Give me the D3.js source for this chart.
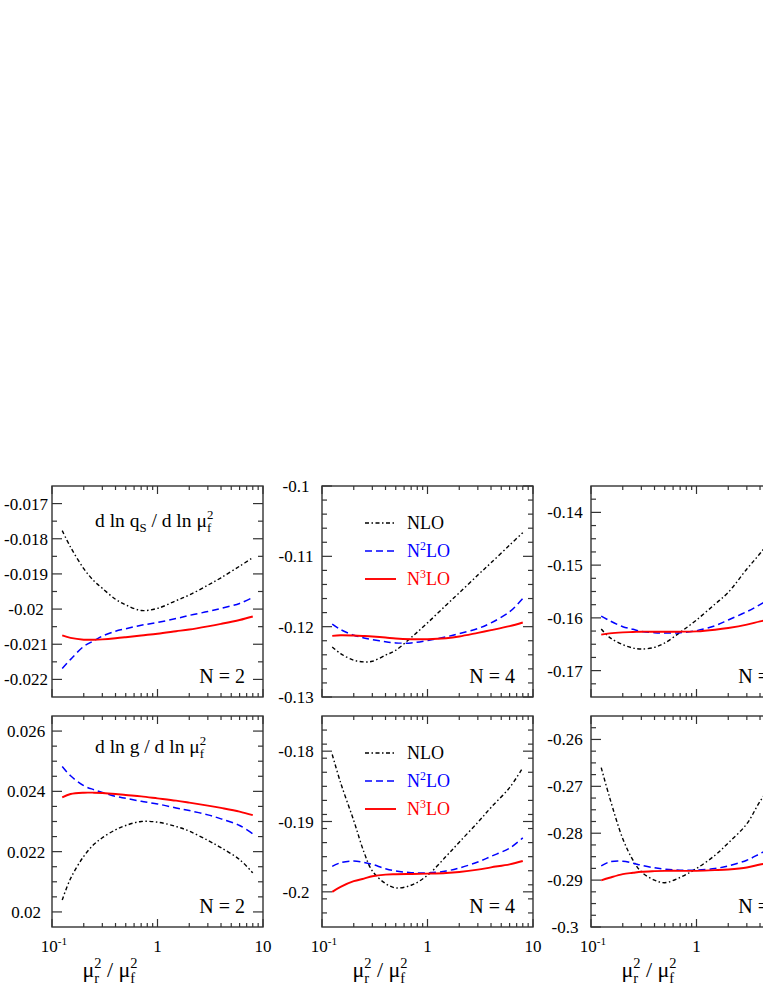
<!DOCTYPE html>
<html>
<head>
<meta charset="utf-8">
<script src="https://cdn.jsdelivr.net/npm/d3@7"></script>
<style>
  body { margin: 0; background: #fff; }
  svg { display: block; }
  text { font-family: "Liberation Serif", "Times New Roman", serif; fill: #000; }
</style>
</head>
<body>
<svg id="chart"></svg>
<script>
// scale ratio mu_r^2 / mu_f^2 where the curves are sampled
const xs = [0.125, 0.15, 0.2, 0.25, 0.3, 0.4, 0.5, 0.7, 1, 1.5, 2, 3, 4, 6, 8];

// d ln qS / d ln muf^2
const qsN2Nlo  = [-0.01777, -0.01824, -0.01885, -0.0192, -0.01941, -0.01972, -0.01988, -0.02004, -0.01998, -0.01976, -0.0196, -0.01932, -0.01911, -0.01878, -0.01854];
const qsN2N2lo = [-0.02169, -0.02143, -0.02106, -0.0209, -0.02077, -0.02063, -0.02056, -0.02046, -0.02038, -0.02027, -0.02018, -0.02007, -0.01998, -0.01984, -0.01967];
const qsN2N3lo = [-0.02075, -0.02082, -0.02087, -0.02087, -0.02086, -0.02083, -0.0208, -0.02075, -0.0207, -0.02063, -0.02058, -0.02049, -0.02042, -0.02031, -0.02021];

const qsN4Nlo  = [-0.12288, -0.12383, -0.12477, -0.12501, -0.12492, -0.12406, -0.12335, -0.12155, -0.11946, -0.11694, -0.11519, -0.11267, -0.11092, -0.1084, -0.10664];
const qsN4N2lo = [-0.11965, -0.12041, -0.12122, -0.1216, -0.12183, -0.12216, -0.12231, -0.12231, -0.12197, -0.12145, -0.12098, -0.12027, -0.11946, -0.11789, -0.116];
const qsN4N3lo = [-0.12131, -0.12122, -0.12126, -0.12133, -0.1214, -0.12155, -0.12169, -0.12178, -0.12178, -0.12164, -0.1214, -0.12088, -0.1205, -0.11993, -0.11941];

const qsN6Nlo  = [-0.16211, -0.16369, -0.16508, -0.16571, -0.1659, -0.16558, -0.16476, -0.16274, -0.1604, -0.15737, -0.15516, -0.15074, -0.1478, -0.14316, -0.13975];
const qsN6N2lo = [-0.15965, -0.16053, -0.16167, -0.16217, -0.16255, -0.1628, -0.16287, -0.1628, -0.16243, -0.16148, -0.1604, -0.15882, -0.15749, -0.15548, -0.1539];
const qsN6N3lo = [-0.16318, -0.16293, -0.16274, -0.16268, -0.16262, -0.16262, -0.16262, -0.16262, -0.16255, -0.16224, -0.16192, -0.16129, -0.16066, -0.1599, -0.15914];

// d ln g / d ln muf^2
const gN2Nlo  = [0.020396, 0.02111, 0.021846, 0.022242, 0.022462, 0.022725, 0.022868, 0.023, 0.022978, 0.022835, 0.022681, 0.022374, 0.022132, 0.021736, 0.021297];
const gN2N2lo = [0.024824, 0.024516, 0.024187, 0.024055, 0.023967, 0.023835, 0.023769, 0.02367, 0.023582, 0.02345, 0.023363, 0.02322, 0.023088, 0.022868, 0.022593];
const gN2N3lo = [0.023802, 0.023912, 0.023956, 0.023956, 0.023945, 0.023912, 0.023879, 0.023835, 0.023769, 0.023692, 0.023626, 0.023527, 0.023451, 0.02333, 0.023209];

const gN4Nlo  = [-0.18047, -0.18447, -0.18988, -0.19435, -0.19704, -0.19882, -0.19944, -0.19906, -0.19765, -0.19496, -0.19294, -0.19012, -0.188, -0.18518, -0.18235];
const gN4N2lo = [-0.19638, -0.19586, -0.19562, -0.19581, -0.19609, -0.19671, -0.19704, -0.19727, -0.19732, -0.19704, -0.19661, -0.19576, -0.19496, -0.19379, -0.19233];
const gN4N3lo = [-0.2, -0.19929, -0.19849, -0.19812, -0.19779, -0.19755, -0.1975, -0.19746, -0.19741, -0.19732, -0.19718, -0.19685, -0.19652, -0.19609, -0.19562];

const gN6Nlo  = [-0.266, -0.27235, -0.28117, -0.28576, -0.28823, -0.29, -0.29056, -0.28943, -0.28752, -0.2847, -0.28209, -0.278, -0.2732, -0.26776, -0.26318];
const gN6N2lo = [-0.28696, -0.28611, -0.28597, -0.28639, -0.28682, -0.28738, -0.28766, -0.28788, -0.28788, -0.28752, -0.28696, -0.28576, -0.28435, -0.28223, -0.28011];
const gN6N3lo = [-0.29006, -0.2895, -0.28872, -0.28844, -0.28823, -0.28809, -0.28802, -0.28802, -0.28802, -0.28788, -0.28773, -0.28731, -0.28668, -0.2859, -0.28505];

// y tick values
const qsN2Ticks = [-0.022, -0.021, -0.02, -0.019, -0.018, -0.017];
const qsN4Ticks = [-0.13, -0.12, -0.11, -0.1];
const qsN6Ticks = [-0.17, -0.16, -0.15, -0.14];
const gN2Ticks = [0.02, 0.022, 0.024, 0.026];
const gN4Ticks = [-0.2, -0.19, -0.18];
const gN6Ticks = [-0.3, -0.29, -0.28, -0.27, -0.26];

const xTicks = [0.1, 1, 10];
const xTickLabels = [[{t: '10'}, {t: '-1', sup: true}], [{t: '1'}], [{t: '10'}]];

const legendLabels = [
  [{t: 'NLO'}],
  [{t: 'N'}, {t: '2', sup: true}, {t: 'LO'}],
  [{t: 'N'}, {t: '3', sup: true}, {t: 'LO'}]
];
const qsTitle = [{t: 'd ln q'}, {t: 'S', sub: true}, {t: ' / d ln \u03bc'}, {t: 'f', sub: true}, {t: '2', sup: true, stack: true}];
const gTitle = [{t: 'd ln g / d ln \u03bc'}, {t: 'f', sub: true}, {t: '2', sup: true, stack: true}];
const xTitle = [{t: '\u03bc'}, {t: 'r', sub: true}, {t: '2', sup: true, stack: true}, {t: ' / \u03bc'}, {t: 'f', sub: true}, {t: '2', sup: true, stack: true}];

const colors = ['#000', '#0000ff', '#ff0000'];
const dashes = ['4,2.5,1.5,2.5', '7,4', null];
const widths = [1.4, 1.5, 1.9];

const W = 211, H = 211;
const svg = d3.select('#chart').attr('width', 763).attr('height', 987);

const panels = [
  {left: 52, top: 486, yDomain: [-0.0225, -0.0165], ticks: qsN2Ticks, minor: 0.0005, series: [qsN2Nlo, qsN2N2lo, qsN2N3lo], n: 'N = 2', title: qsTitle},
  {left: 322, top: 486, yDomain: [-0.13, -0.1], ticks: qsN4Ticks, minor: 0.002, series: [qsN4Nlo, qsN4N2lo, qsN4N3lo], n: 'N = 4', legend: true},
  {left: 591, top: 486, yDomain: [-0.175, -0.135], ticks: qsN6Ticks, minor: 0.0025, series: [qsN6Nlo, qsN6N2lo, qsN6N3lo], n: 'N = 6'},
  {left: 52, top: 716, yDomain: [0.0195, 0.0265], ticks: gN2Ticks, minor: 0.0005, series: [gN2Nlo, gN2N2lo, gN2N3lo], n: 'N = 2', title: gTitle, bottom: true},
  {left: 322, top: 716, yDomain: [-0.205, -0.175], ticks: gN4Ticks, minor: 0.002, series: [gN4Nlo, gN4N2lo, gN4N3lo], n: 'N = 4', legend: true, bottom: true},
  {left: 591, top: 716, yDomain: [-0.3, -0.255], ticks: gN6Ticks, minor: 0.0025, series: [gN6Nlo, gN6N2lo, gN6N3lo], n: 'N = 6', bottom: true}
];

// text with sub/superscripts, runs placed one after another
function richText(g, x, y, runs, size, anchor, fill) {
  const t = g.append('text').style('font-size', size + 'px').style('white-space', 'pre');
  if (fill) t.style('fill', fill);
  let cx = 0, prevX = 0;
  runs.forEach(r => {
    const small = r.sub || r.sup;
    const fs = small ? size * 0.66 : size;
    const dy = r.sub ? size * 0.28 : r.sup ? -size * 0.4 : 0;
    const sx = r.stack ? prevX : cx;
    const sp = t.append('tspan').attr('x', sx).attr('y', y + dy).style('font-size', fs + 'px').text(r.t);
    const w = sp.node().getComputedTextLength();
    cx = r.stack ? Math.max(cx, sx + w) : sx + w;
    prevX = sx;
  });
  const off = anchor === 'middle' ? -cx / 2 : anchor === 'end' ? -cx : 0;
  t.attr('transform', `translate(${x + off},0)`);
  return t;
}

const xMinor = [];
[0.1, 1].forEach(d => { for (let k = 2; k <= 9; k++) xMinor.push(d * k); });

panels.forEach(p => {
  const g = svg.append('g');
  const x = d3.scaleLog().domain([0.1, 10]).range([p.left, p.left + W]);
  const y = d3.scaleLinear().domain(p.yDomain).range([p.top + H, p.top]);
  const ax = '#333';

  // curves
  const line = d3.line().x((d, i) => x(xs[i])).y(d => y(d)).curve(d3.curveCatmullRom.alpha(0.5));
  p.series.forEach((s, i) => {
    g.append('path').attr('d', line(s)).attr('fill', 'none')
      .attr('stroke', colors[i]).attr('stroke-width', widths[i])
      .attr('stroke-dasharray', dashes[i]);
  });

  // frame
  g.append('rect').attr('x', p.left).attr('y', p.top).attr('width', W).attr('height', H)
    .attr('fill', 'none').attr('stroke', ax).attr('stroke-width', 1.4);

  // x ticks, top and bottom, pointing in
  const xt = xTicks.map(v => ({v, len: 8})).concat(xMinor.map(v => ({v, len: 4})));
  xt.forEach(t => {
    g.append('line').attr('x1', x(t.v)).attr('x2', x(t.v)).attr('y1', p.top + H).attr('y2', p.top + H - t.len)
      .attr('stroke', ax).attr('stroke-width', 1.2);
    g.append('line').attr('x1', x(t.v)).attr('x2', x(t.v)).attr('y1', p.top).attr('y2', p.top + t.len)
      .attr('stroke', ax).attr('stroke-width', 1.2);
  });

  // y ticks, left and right
  const [lo, hi] = p.yDomain;
  const nMinor = Math.round((hi - lo) / p.minor);
  const yt = p.ticks.map(v => ({v, len: 10}));
  for (let i = 1; i < nMinor; i++) {
    const v = lo + i * p.minor;
    if (!p.ticks.some(m => Math.abs(m - v) < p.minor / 10)) yt.push({v, len: 5});
  }
  yt.forEach(t => {
    g.append('line').attr('x1', p.left).attr('x2', p.left + t.len).attr('y1', y(t.v)).attr('y2', y(t.v))
      .attr('stroke', ax).attr('stroke-width', 1.2);
    g.append('line').attr('x1', p.left + W).attr('x2', p.left + W - t.len).attr('y1', y(t.v)).attr('y2', y(t.v))
      .attr('stroke', ax).attr('stroke-width', 1.2);
  });

  // y tick labels
  p.ticks.forEach(v => {
    g.append('text').attr('x', p.left - 26).attr('y', y(v) + 6)
      .attr('text-anchor', 'middle').style('font-size', '17px').text(String(v));
  });

  // x tick labels + axis title on bottom row
  if (p.bottom) {
    xTicks.forEach((v, i) => {
      richText(g, x(v) + (i === 0 ? 2 : 0), p.top + H + 25, xTickLabels[i], 17, 'middle');
    });
    richText(g, p.left + 58, p.top + H + 50, xTitle, 22, 'middle');
  }

  // N label
  g.append('text').attr('x', p.left + W - 18).attr('y', p.top + H - 14)
    .attr('text-anchor', 'end').style('font-size', '20px').text(p.n);

  if (p.title) richText(g, p.left + 43, p.top + (p.bottom ? 37 : 41), p.title, 19.5, 'start');

  if (p.legend) {
    legendLabels.forEach((lab, i) => {
      const ly = p.top + 37 + i * 28;
      g.append('line').attr('x1', p.left + 43).attr('x2', p.left + 74).attr('y1', ly).attr('y2', ly)
        .attr('stroke', colors[i]).attr('stroke-width', widths[i]).attr('stroke-dasharray', dashes[i]);
      richText(g, p.left + 85, ly + 6, lab, 18, 'start', colors[i]);
    });
  }
});
</script>
</body>
</html>
